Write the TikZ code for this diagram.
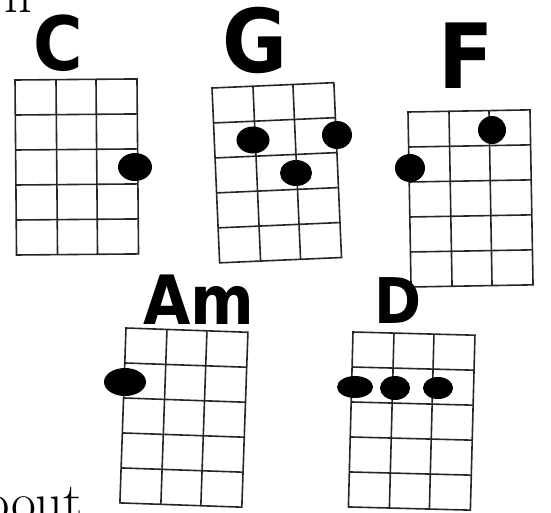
\documentclass[tikz,border=0pt]{standalone}
\usepackage{fontspec}
\usepackage{tikz}
\usetikzlibrary{shapes.geometric}
\newfontfamily\markerfont{DejaVu Sans Condensed}

\begin{document}
\begin{tikzpicture}[x=1pt, y=-1pt,
    fretline/.style={line width=1.6pt, black!85},
    finger/.style={ellipse, fill=black, inner sep=0pt, minimum width=32pt, minimum height=27pt},
    chordname/.style={font=\markerfont\bfseries\fontsize{#1}{#1}\selectfont, inner sep=0pt, anchor=base},
    pagetext/.style={font=\fontsize{54}{54}\selectfont, inner sep=0pt, anchor=base west},
    pics/fretboard/.style={code={
      \draw[fretline] (0,0) rectangle (122,175);
      \foreach \s in {41,81} \draw[fretline] (\s,0) -- (\s,175);
      \foreach \f in {35,70,105,140} \draw[fretline] (0,\f) -- (122,\f);
    }}]
  \useasboundingbox (0,0) rectangle (551,512);
  \clip (0,0) rectangle (551,512);

  % cut-off lines of the page
  \node[pagetext] (topline) at (4,12) {n};
  \node[pagetext] (bottomline) at (-18,520) {bout};

  % chord boxes
  \pic (boxC) [rotate=0.5] at (15,80) {fretboard};
  \pic (boxG) [rotate=2.5] at (212,88) {fretboard};
  \pic (boxF) [rotate=1] at (408,112) {fretboard};
  \pic (boxAm) [rotate=-2] at (126,328) {fretboard};
  \pic (boxD) [rotate=-1.5] at (353,332) {fretboard};

  % chord names
  \node[chordname=75] (nameC) at (58,70) {C};
  \node[chordname=88] (nameG) at (255,72) {G};
  \node[chordname=90] (nameF) at (466,88) {F};
  \node[chordname=68] (nameAm) at (199,324) {Am};
  \node[chordname=63] (nameD) at (398,323) {D};

  % fingers
  \node[finger, minimum width=34pt, minimum height=28pt] (c1) at (135,167) {};
  \node[finger, minimum width=33pt] (g1) at (253,140) {};
  \node[finger, minimum width=30pt, minimum height=28pt] (g2) at (337,135) {};
  \node[finger, minimum height=26pt] (g3) at (296,173) {};
  \node[finger, minimum width=28pt, minimum height=28pt] (f1) at (492,130) {};
  \node[finger, minimum width=30pt, minimum height=28pt] (f2) at (410,168) {};
  \node[finger, minimum width=42pt, minimum height=28pt] (am1) at (125,382) {};
  \node[finger, minimum width=36pt, minimum height=22pt] (d1) at (355,387) {};
  \node[finger, minimum width=30pt, minimum height=24pt] (d2) at (395,388) {};
  \node[finger, minimum width=30pt, minimum height=22pt] (d3) at (438,388) {};
\end{tikzpicture}
\end{document}
